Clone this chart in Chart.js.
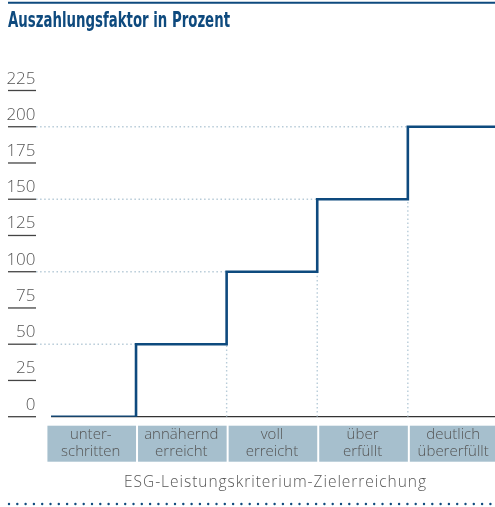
<!DOCTYPE html>
<html>
<head>
<meta charset="utf-8">
<script src="https://cdn.jsdelivr.net/npm/chart.js@4.4.1/dist/chart.umd.min.js"></script>
<style>
  body { margin: 0; background: #fff; }
</style>
</head>
<body>
<canvas id="payout-chart" width="495" height="507"></canvas>
<script>
const titleText = "Auszahlungsfaktor in Prozent";
const axisTitle = "ESG-Leistungskriterium-Zielerreichung";
const categories = [
  ["unter-", "schritten"],
  ["annähernd", "erreicht"],
  ["voll", "erreicht"],
  ["über", "erfüllt"],
  ["deutlich", "übererfüllt"],
];
// step line: x position (in category units) and payout in %
const stepX = [0.062, 1, 2, 3, 4, 4.962];
const payout = [0, 50, 100, 150, 200, 200];
const yTicks = [0, 25, 50, 75, 100, 125, 150, 175, 200, 225];

const xMin = -0.104;
const xMax = 4.962;
const blue = "#0e4a7e";
const gray = "#555555";
const lightFont = "'Open Sans', 'Noto Sans', sans-serif";

// dotted guides: horizontal from the axis to each step, vertical below each step
const guides = [];
for (let i = 1; i < stepX.length - 1; i++) {
  guides.push({ x: xMin, y: payout[i] }, { x: stepX[i], y: payout[i] }, { x: stepX[i], y: null });
  if (payout[i - 1] > 0) {
    guides.push({ x: stepX[i], y: 0 }, { x: stepX[i], y: payout[i - 1] }, { x: stepX[i], y: null });
  }
}

const deco = {
  id: "deco",
  beforeDraw(chart) {
    const { ctx, scales: { x, y } } = chart;
    ctx.save();

    // top rule
    ctx.strokeStyle = blue;
    ctx.lineWidth = 2;
    ctx.beginPath();
    ctx.moveTo(8, 2.7);
    ctx.lineTo(495, 2.7);
    ctx.stroke();

    // title, condensed
    ctx.fillStyle = blue;
    ctx.font = "bold 21px 'Liberation Sans Narrow', 'DejaVu Sans Condensed', sans-serif";
    ctx.textBaseline = "alphabetic";
    ctx.textAlign = "left";
    const w = ctx.measureText(titleText).width;
    ctx.save();
    ctx.translate(8, 26.7);
    ctx.scale(222 / w, 1);
    ctx.fillText(titleText, 0, 0);
    ctx.restore();

    // y tick labels with short rules under them
    ctx.font = "300 17px " + lightFont;
    ctx.fillStyle = gray;
    ctx.textAlign = "right";
    ctx.strokeStyle = "#444";
    ctx.lineWidth = 1.3;
    yTicks.forEach((v) => {
      const py = y.getPixelForValue(v);
      ctx.fillText(String(v), 35.5, py - 7);
      ctx.beginPath();
      ctx.moveTo(8, py);
      ctx.lineTo(36, py);
      ctx.stroke();
    });

    // category boxes
    ctx.fillStyle = "#a6bfcd";
    const top = y.getPixelForValue(0) + 9;
    for (let i = 0; i < categories.length; i++) {
      const l = x.getPixelForValue(i) + 2;
      const r = Math.min(x.getPixelForValue(i + 1), 495);
      ctx.fillRect(l, top, r - l, 36);
    }

    // axis title, spaced out to the reference width
    ctx.fillStyle = gray;
    ctx.font = "300 15.5px " + lightFont;
    ctx.textAlign = "left";
    ctx.textBaseline = "alphabetic";
    const tw = ctx.measureText(axisTitle).width;
    const spacing = Math.max(0, (303 - tw) / axisTitle.length);
    ctx.letterSpacing = spacing + "px";
    ctx.fillText(axisTitle, 124, 486.5);
    ctx.letterSpacing = "0px";

    // dotted bottom rule
    ctx.fillStyle = blue;
    for (let px = 9; px < 495; px += 8.3) {
      ctx.beginPath();
      ctx.arc(px, 504, 1.2, 0, Math.PI * 2);
      ctx.fill();
    }
    ctx.restore();
  },
  beforeDatasetsDraw(chart) {
    const { ctx, scales: { x, y } } = chart;
    ctx.save();
    ctx.strokeStyle = "#333";
    ctx.lineWidth = 1.3;
    ctx.beginPath();
    ctx.moveTo(x.getPixelForValue(stepX[0]), y.getPixelForValue(0));
    ctx.lineTo(x.getPixelForValue(xMax), y.getPixelForValue(0));
    ctx.stroke();
    ctx.restore();
  },
};

new Chart("payout-chart", {
  type: "line",
  data: {
    datasets: [
      {
        data: stepX.map((v, i) => ({ x: v, y: payout[i] })),
        stepped: "before",
        borderColor: blue,
        borderWidth: 2.6,
        borderJoinStyle: "miter",
        borderCapStyle: "butt",
        pointRadius: 0,
        fill: false,
      },
      {
        data: guides,
        spanGaps: false,
        borderColor: "#b7cbd8",
        borderWidth: 1.4,
        borderDash: [1.5, 2.6],
        pointRadius: 0,
        fill: false,
      },
    ],
  },
  options: {
    responsive: false,
    animation: false,
    layout: { padding: { left: 36, top: 90.5, right: 0, bottom: 10 } },
    plugins: {
      legend: { display: false },
      tooltip: { enabled: false },
    },
    scales: {
      x: {
        type: "linear",
        min: xMin,
        max: xMax,
        grid: { display: false, drawTicks: false },
        border: { display: false },
        afterBuildTicks: (scale) => {
          scale.ticks = categories.map((c, i) => ({ value: i + 0.5 }));
        },
        afterFit: (scale) => {
          scale.height = 80.3;
          scale.paddingLeft = 0;
          scale.paddingRight = 0;
        },
        ticks: {
          autoSkip: false,
          maxRotation: 0,
          padding: 9.8,
          color: gray,
          font: { family: lightFont, size: 15, weight: "300", lineHeight: 1.13 },
          callback: (value, index) => categories[index],
        },
      },
      y: {
        display: false,
        min: 0,
        max: 225,
      },
    },
  },
  plugins: [deco],
});
</script>
</body>
</html>
